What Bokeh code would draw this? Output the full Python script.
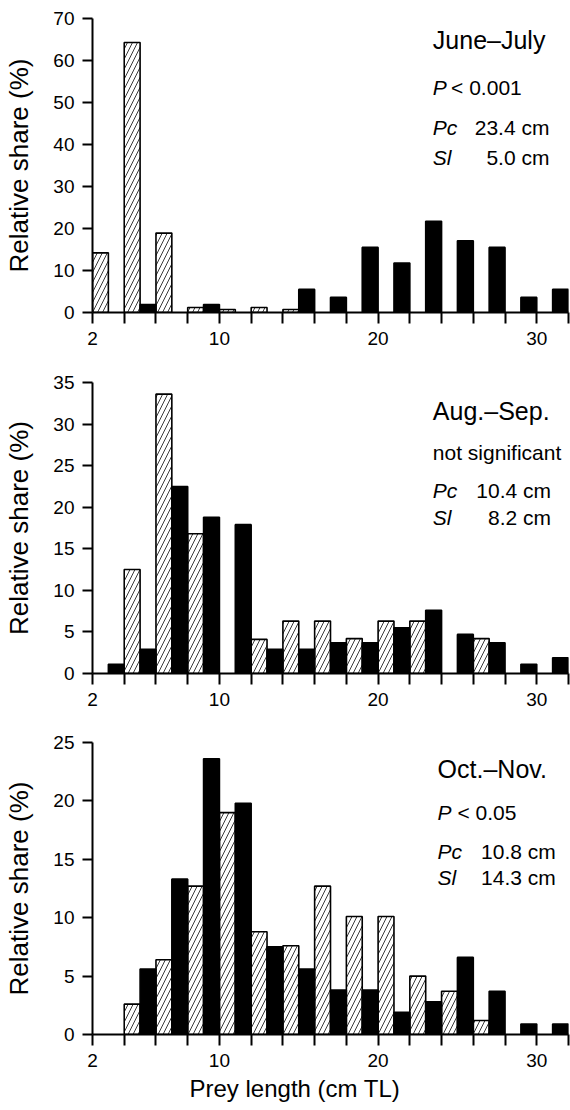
from bokeh.plotting import figure
from bokeh.layouts import column
from bokeh.models import FixedTicker, Label, ColumnDataSource, Title
from bokeh.embed import file_html
from bokeh.resources import INLINE

# ---------------- data ----------------
bin_starts = [2, 4, 6, 8, 10, 12, 14, 16, 18, 20, 22, 24, 26, 28, 30]
x_major_ticks = [2, 10, 20, 30]
x_minor_ticks = [4, 6, 8, 12, 14, 16, 18, 22, 24, 26, 28, 32]

periods = ["June\u2013July", "Aug.\u2013Sep.", "Oct.\u2013Nov."]
tests = ["< 0.001", "not significant", "< 0.05"]
pc_sizes = ["23.4 cm", "10.4 cm", "10.8 cm"]
sl_sizes = ["5.0 cm", "8.2 cm", "14.3 cm"]
x_title = "Prey length (cm TL)"
y_title = "Relative share (%)"

# hatched bars (left half of each 2-cm class)
hatched_jj = [14.2, 64.3, 18.9, 1.2, 0.7, 1.2, 0.7, 0, 0, 0, 0, 0, 0, 0, 0]
hatched_as = [0, 12.5, 33.6, 16.8, 0, 4.1, 6.3, 6.3, 4.2, 6.3, 6.3, 0, 4.2, 0, 0]
hatched_on = [0, 2.6, 6.4, 12.7, 19.0, 8.8, 7.6, 12.7, 10.1, 10.1, 5.0, 3.7, 1.2, 0, 0]
# black bars (right half of each 2-cm class)
black_jj = [0, 1.9, 0, 1.9, 0, 0, 5.5, 3.6, 15.5, 11.8, 21.7, 17.1, 15.5, 3.6, 5.5]
black_as = [1.1, 2.9, 22.5, 18.8, 17.9, 2.9, 2.9, 3.7, 3.7, 5.5, 7.6, 4.7, 3.7, 1.1, 1.9]
black_on = [0, 5.6, 13.3, 23.6, 19.8, 7.5, 5.6, 3.8, 3.8, 1.9, 2.8, 6.6, 3.7, 0.9, 0.9]

y_max = [70, 35, 25]
y_step = [10, 5, 5]

FONT = "Liberation Sans"


def bar_source(values, offset):
    left, right, top = [], [], []
    for b, v in zip(bin_starts, values):
        if v > 0:
            left.append(b + offset)
            right.append(b + offset + 1)
            top.append(v)
    return ColumnDataSource(dict(left=left, right=right, top=top, bottom=[0] * len(top)))


def make_panel(i, hatched, black, height, b_top, b_bottom, last, tpos):
    p = figure(width=570, height=height, x_range=(2, 32), y_range=(0, y_max[i]),
               output_backend="svg", toolbar_location=None,
               min_border_left=92, min_border_right=2,
               min_border_top=b_top, min_border_bottom=b_bottom)
    p.outline_line_color = None
    p.grid.visible = False
    p.background_fill_color = "white"
    p.border_fill_color = "white"

    p.quad(left="left", right="right", top="top", bottom="bottom",
           source=bar_source(hatched, 0), fill_color="white", line_color="black",
           line_width=1.6, hatch_pattern="/", hatch_color="#222222",
           hatch_weight=0.9, hatch_scale=10)
    p.quad(left="left", right="right", top="top", bottom="bottom",
           source=bar_source(black, 1), fill_color="black", line_color="black",
           line_width=1.6)

    xa = p.xaxis[0]
    xa.ticker = FixedTicker(ticks=x_major_ticks, minor_ticks=x_minor_ticks)
    xa.axis_line_width = 2
    xa.axis_line_color = "black"
    xa.major_tick_line_width = 2
    xa.minor_tick_line_width = 2
    xa.major_tick_out = 11
    xa.major_tick_in = 0
    xa.minor_tick_out = 11
    xa.minor_tick_in = 0
    xa.major_label_text_font = FONT
    xa.major_label_text_font_size = "19px"
    xa.major_label_text_color = "black"
    xa.major_label_standoff = 8

    ya = p.yaxis[0]
    ya.ticker = FixedTicker(ticks=list(range(0, y_max[i] + 1, y_step[i])), minor_ticks=[])
    ya.axis_line_width = 2
    ya.axis_line_color = "black"
    ya.major_tick_line_width = 2
    ya.major_tick_out = 10
    ya.major_tick_in = 0
    ya.minor_tick_out = 0
    ya.minor_tick_in = 0
    ya.major_label_text_font = FONT
    ya.major_label_text_font_size = "19px"
    ya.major_label_text_color = "black"
    ya.major_label_standoff = 8
    ya.axis_label = y_title
    ya.axis_label_text_font = FONT
    ya.axis_label_text_font_size = "26px"
    ya.axis_label_text_font_style = "normal"
    ya.axis_label_text_color = "black"
    ya.axis_label_standoff = 16

    xl, xp, xr, y_t, y_test, y_pc, y_sl = tpos

    def lab(x, y, text, size, style="normal", align="left"):
        p.add_layout(Label(x=x, y=y, text=text, text_font=FONT, text_font_size=size,
                           text_font_style=style, text_align=align,
                           text_baseline="middle", text_color="black"))

    lab(xl, y_t, periods[i], "25px")
    if tests[i].startswith("<"):
        lab(xl, y_test, "P", "21px", "italic")
        lab(xp, y_test, tests[i], "21px")
    else:
        lab(xl, y_test, tests[i], "21px")
    lab(xl, y_pc, "Pc", "21px", "italic")
    lab(xr, y_pc, pc_sizes[i], "21px", align="right")
    lab(xl, y_sl, "Sl", "21px", "italic")
    lab(xr, y_sl, sl_sizes[i], "21px", align="right")

    if last:
        # x-axis title, sitting left of the frame centre as in the original
        p.add_layout(Title(text=x_title, align="left", offset=97, standoff=7,
                           text_font=FONT, text_font_size="24px",
                           text_font_style="normal", text_color="black"), "below")
    return p


p1 = make_panel(0, hatched_jj, black_jj, 352, 18, 40, False,
                (23.45, 24.6, 30.8, 64.8, 53.6, 44.1, 36.9))
p2 = make_panel(1, hatched_as, black_as, 361, 30, 40, False,
                (23.45, 24.6, 30.9, 31.6, 26.6, 22.0, 18.8))
p3 = make_panel(2, hatched_on, black_on, 396, 29, 75, True,
                (23.75, 25.0, 31.2, 22.7, 19.0, 15.7, 13.45))

layout = column(p1, p2, p3, spacing=0)
open("out.html", "w").write(file_html(layout, INLINE))
